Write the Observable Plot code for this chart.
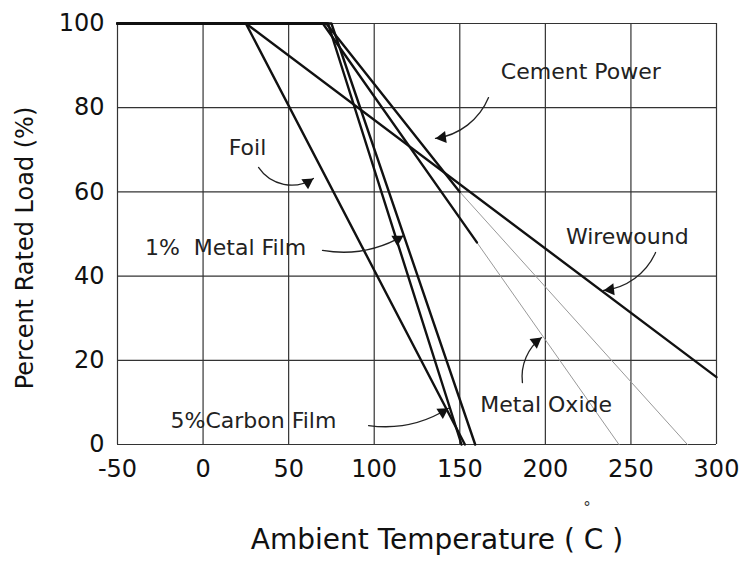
<!DOCTYPE html>
<html><head><meta charset="utf-8">
<script src="https://cdn.jsdelivr.net/npm/d3@7"></script>
<script src="https://cdn.jsdelivr.net/npm/@observablehq/plot@0.6"></script>
<style>body{margin:0;background:#fff}</style>
</head><body><div id="chart"></div>
<script>
// Axis ticks
const xTicks = [-50, 0, 50, 100, 150, 200, 250, 300];
const yTicks = [0, 20, 40, 60, 80, 100];

// Derating curves: ambient temperature (°C) vs percent rated load
const foilT = [-50, 25, 153];
const foilLoad = [100, 100, 0];
const wirewoundT = [-50, 25, 300];
const wirewoundLoad = [100, 100, 16];
const metalFilmT = [-50, 73, 151];
const metalFilmLoad = [100, 100, 0];
const carbonFilmT = [-50, 75, 159];
const carbonFilmLoad = [100, 100, 0];
const cementT = [-50, 70, 160];
const cementLoad = [100, 100, 48];
const cementExtT = [160, 243];
const cementExtLoad = [48, 0];
const oxideT = [-50, 72, 150];
const oxideLoad = [100, 100, 60];
const oxideExtT = [150, 283];
const oxideExtLoad = [60, 0];

// Annotation labels (data coordinates)
const labels = ["Cement Power", "Foil", "1%  Metal Film", "Wirewound", "Metal Oxide", "5%Carbon Film"];
const labelT = [174, 15, -34, 212, 162, -19];
const labelLoad = [88.6, 70.5, 46.6, 49.2, 9.5, 5.7];
// Annotation arrows
const arrowT1 = [166.8, 32.4, 69.8, 264.4, 186.6, 96.7];
const arrowLoad1 = [82.4, 65.8, 46.1, 45.6, 14.7, 4.5];
const arrowT2 = [135.8, 64.5, 117.1, 234, 197.8, 143.4];
const arrowLoad2 = [72.7, 63.2, 49.6, 36.6, 25.4, 8.6];
const arrowBend = [30, -45, -20, 30, 30, -20];

const rows = (name, T, L) => T.map((t, i) => ({series: name, t, load: L[i]}));
const thick = [
  ...rows("Foil", foilT, foilLoad),
  ...rows("Wirewound", wirewoundT, wirewoundLoad),
  ...rows("1% Metal Film", metalFilmT, metalFilmLoad),
  ...rows("5% Carbon Film", carbonFilmT, carbonFilmLoad),
  ...rows("Cement Power", cementT, cementLoad),
  ...rows("Metal Oxide", oxideT, oxideLoad)
];
const thin = [
  ...rows("Cement Power", cementExtT, cementExtLoad),
  ...rows("Metal Oxide", oxideExtT, oxideExtLoad)
];
const arrows = labels.map((l, i) => ({x1: arrowT1[i], y1: arrowLoad1[i], x2: arrowT2[i], y2: arrowLoad2[i], bend: arrowBend[i]}));
const texts = labels.map((l, i) => ({label: l, t: labelT[i], load: labelLoad[i]}));

const font = "'DejaVu Sans', 'Liberation Sans', Arial, sans-serif";
const headR = 4.5;

function build(heads) {
  return Plot.plot({
    width: 741, height: 561,
    marginTop: 23, marginBottom: 117, marginLeft: 117, marginRight: 25,
    style: {fontFamily: font, background: "#fff", color: "#111"},
    x: {domain: [-50, 300], label: null},
    y: {domain: [0, 100], label: null},
    marks: [
      Plot.gridX(xTicks, {stroke: "#333", strokeOpacity: 1, strokeWidth: 1.2}),
      Plot.gridY(yTicks, {stroke: "#333", strokeOpacity: 1, strokeWidth: 1.2}),
      Plot.axisX(xTicks, {tickSize: 0, tickPadding: 15, fontSize: 24, label: null, tickFormat: d => String(d), fill: "#111"}),
      Plot.axisY(yTicks, {tickSize: 0, tickPadding: 13, fontSize: 24, label: null, tickFormat: d => String(d), fill: "#111"}),
      Plot.line(thin, {x: "t", y: "load", z: "series", stroke: "#999", strokeWidth: 1}),
      Plot.line(thick, {x: "t", y: "load", z: "series", stroke: "#111", strokeWidth: 2.4}),
      ...arrows.map(a => Plot.arrow([a], {x1: "x1", y1: "y1", x2: "x2", y2: "y2", bend: a.bend, headLength: 0, stroke: "#222", strokeWidth: 1.3})),
      Plot.dot(heads, {x: "x", y: "y", rotate: "rotate", symbol: "triangle", r: headR, fill: "#111", stroke: "none"}),
      Plot.text(texts, {x: "t", y: "load", text: "label", textAnchor: "start", fontSize: 22, fill: "#222"}),
      Plot.text(["Ambient Temperature ( C )"], {text: d => d, frameAnchor: "bottom", dx: 20, dy: 104, fontSize: 28, fill: "#111"}),
      Plot.text(["°"], {text: d => d, frameAnchor: "bottom", dx: 170, dy: 68, fontSize: 15, fill: "#333"}),
      Plot.text(["Percent Rated Load (%)"], {text: d => d, frameAnchor: "left", textAnchor: "middle", rotate: -90, dx: -92, dy: 14, fontSize: 24, fill: "#111"})
    ]
  });
}

// First pass to obtain the scales, then place filled arrowheads along each arc's end tangent
const first = build([]);
const xs = first.scale("x"), ys = first.scale("y");
const back = 2 * Math.sqrt((Math.PI * headR * headR) / (3 * Math.sqrt(3)));
const heads = arrows.map(a => {
  const px1 = xs.apply(a.x1), py1 = ys.apply(a.y1), px2 = xs.apply(a.x2), py2 = ys.apply(a.y2);
  const chord = Math.atan2(py2 - py1, px2 - px1);
  const end = chord + a.bend * Math.PI / 180;
  return {x: xs.invert(px2 - back * Math.cos(end)), y: ys.invert(py2 - back * Math.sin(end)), rotate: end * 180 / Math.PI + 90};
});
document.getElementById("chart").appendChild(build(heads));
</script>
</body></html>
